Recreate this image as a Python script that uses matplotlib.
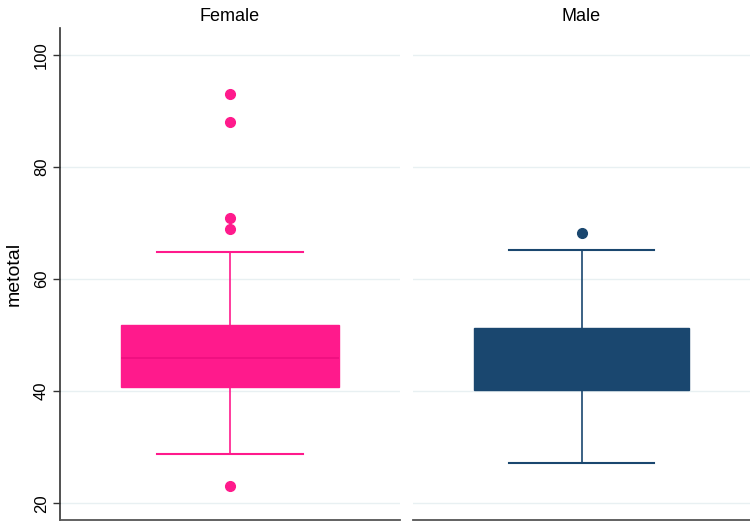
import matplotlib
matplotlib.use("Agg")
import matplotlib.pyplot as plt

groups = ["Female", "Male"]
q1 = [40.8, 40.2]
median = [45.9, 45.2]
q3 = [51.8, 51.3]
whisker_low = [28.8, 27.1]
whisker_high = [64.9, 65.2]
outliers = [[93, 88, 71, 69, 23], [68.2]]
colors = ["#ff1a8c", "#1a476f"]
median_colors = ["#ee0f7f", "#1a476f"]

yticks = [20, 40, 60, 80, 100]

plt.rcParams["font.family"] = ["Liberation Sans", "DejaVu Sans"]

fig = plt.figure(figsize=(7.5, 5.26), dpi=100)
H = 526.0
W = 750.0
bottom = 1 - 520 / H
height = (520 - 28.3) / H
ax1 = fig.add_axes([60 / W, bottom, 340 / W, height])
ax2 = fig.add_axes([413 / W, bottom, 337 / W, height])

for i, ax in enumerate([ax1, ax2]):
    stats = [dict(med=median[i], q1=q1[i], q3=q3[i],
                  whislo=whisker_low[i], whishi=whisker_high[i],
                  fliers=outliers[i])]
    c = colors[i]
    ax.bxp(stats, positions=[1], widths=0.64, capwidths=0.43,
           patch_artist=True, showfliers=True,
           boxprops=dict(facecolor=c, edgecolor=c, linewidth=1.0),
           medianprops=dict(color=median_colors[i], linewidth=1.2),
           whiskerprops=dict(color=c, linewidth=1.2),
           capprops=dict(color=c, linewidth=1.5),
           flierprops=dict(marker="o", markerfacecolor=c, markeredgecolor=c,
                           markersize=7, linestyle="none"))
    ax.set_xlim(0.5, 1.5)
    ax.set_ylim(17.0, 104.8)
    ax.set_xticks([])
    ax.set_yticks(yticks)
    ax.grid(axis="y", color="#e8f0f2", linewidth=1.0)
    ax.set_axisbelow(True)
    for s in ["top", "right"]:
        ax.spines[s].set_visible(False)
    ax.spines["bottom"].set_color("#555555")
    ax.spines["bottom"].set_linewidth(1.3)
    ax.set_title(groups[i], fontsize=13, pad=5)
    ax.patch.set_alpha(0)

ax1.spines["left"].set_color("#333333")
ax1.spines["left"].set_linewidth(1.2)
ax1.tick_params(axis="y", length=5, width=1.0, color="#333333", labelsize=12,
                labelrotation=90, pad=3)
for lbl in ax1.get_yticklabels():
    lbl.set_va("center")
ax1.set_ylabel("metotal", fontsize=14, labelpad=8)

ax2.spines["left"].set_visible(False)
ax2.tick_params(axis="y", length=0, labelleft=False)

fig.savefig("out.png", dpi=100)
